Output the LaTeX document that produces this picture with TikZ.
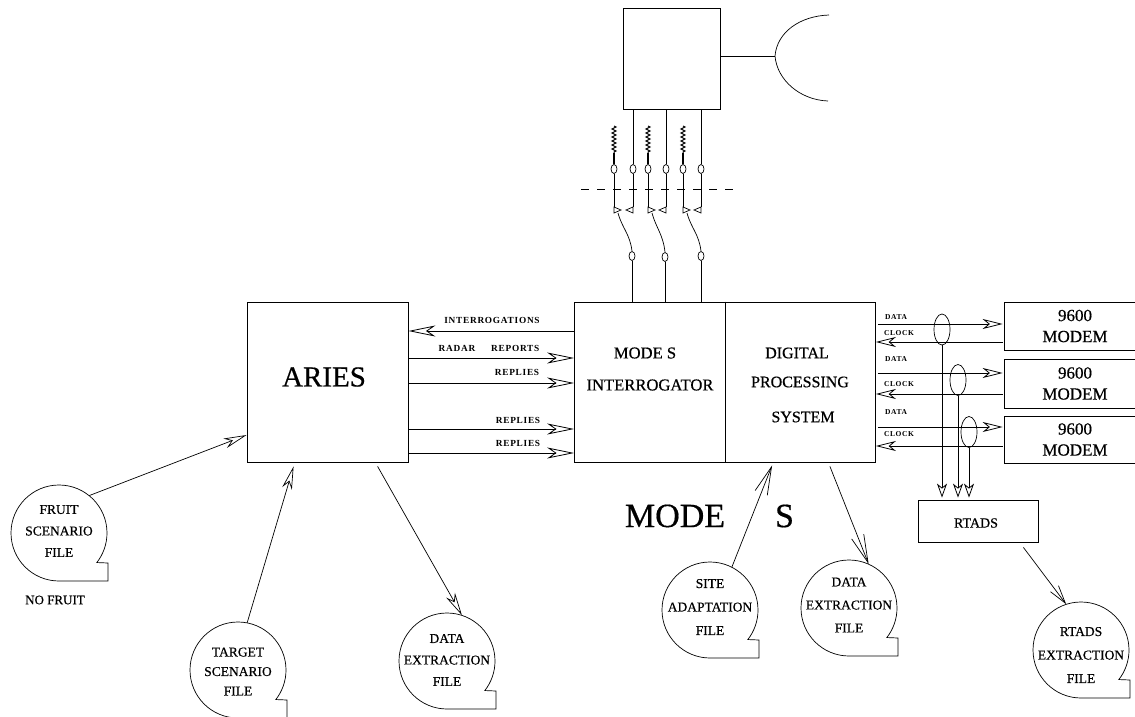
\documentclass[tikz,border=0pt]{standalone}
\usepackage{fontspec}
\setmainfont[FakeBold=0.5]{Liberation Serif}
\newfontfamily\tagfont[LetterSpace=8]{Liberation Serif}
\usetikzlibrary{arrows.meta,positioning,calc,shapes.geometric,decorations.pathmorphing}
\tikzset{
    blockbox/.style={draw, line width=0.8pt, inner sep=0pt, align=center},
    modembox/.style={blockbox, minimum width=142pt, font=\fontsize{17}{21}\selectfont},
    flowarrow/.style={line width=0.8pt, -{Stealth[open, length=27pt, width=11pt, inset=8pt]}},
    linkarrow/.style={line width=0.8pt, -{Stealth[open, length=20pt, width=10pt, inset=6pt]}},
    droparrow/.style={line width=0.8pt, -{Stealth[open, length=14pt, width=10pt, inset=4pt]}},
    filearrow/.style={line width=0.7pt, -{Stealth[open, length=23pt, width=10pt, inset=7pt]}},
    barbarrow/.style={line width=0.7pt, -{Straight Barb[length=28pt, width=13pt]}},
    shortbarb/.style={line width=0.7pt, -{Straight Barb[length=18pt, width=10pt]}},
    joint/.style={draw, ellipse, line width=0.7pt, minimum width=6pt, minimum height=9pt, inner sep=0pt},
    tap/.style={draw, ellipse, line width=0.7pt, minimum width=16pt, minimum height=31pt, inner sep=0pt},
    filecore/.style={circle, minimum size=96pt, inner sep=0pt},
    filetext/.style={inner sep=0pt, align=center, font=\fontsize{13.5}{#1}\selectfont},
    tag/.style={font=\tagfont\bfseries\fontsize{9.3}{10}\selectfont, inner sep=0pt},
    smalltag/.style={font=\tagfont\bfseries\fontsize{7.5}{8}\selectfont, inner sep=0pt},
}
\newcommand{\filebubble}[5]{%
    \node[filecore] (#1) at (#2) {};
    \node[filetext=#4] (#1text) at ($(#1.center)+(0,#3)$) {#5};
    \draw[line width=0.7pt] ($(#1.center)+(0,48)$) arc[start angle=90, end angle=398, radius=48]
        -- ($(#1.center)+(49,30)$) -- ($(#1.center)+(49,48)$) -- cycle;
}
\begin{document}
\begin{tikzpicture}[x=1pt, y=-1pt]
    \useasboundingbox (0,0) rectangle (1135,717);

    % blocks
    \node[blockbox, minimum width=161pt, minimum height=160pt] (aries) at (327.5,382) {};
    \node[font=\fontsize{29}{32}\selectfont, inner sep=0pt] (arieslabel) at (324,377) {ARIES};
    \node[blockbox, minimum width=301pt, minimum height=160pt] (modes) at (725,382) {};
    \draw[line width=0.8pt] (modes.north) -- (modes.south);
    \node[align=center, inner sep=0pt, font=\fontsize{16.6}{32}\selectfont] (interrogator) at (650,369) {MODE S\hspace*{10pt}\\INTERROGATOR};
    \node[align=center, inner sep=0pt, font=\fontsize{16}{30}\selectfont] (dps) at (800,385) {\hspace*{-6pt}DIGITAL\\[-1pt]PROCESSING\\[5pt]\hspace*{6pt}SYSTEM};
    \node[font=\fontsize{34}{38}\selectfont, inner sep=0pt] (title) at (709.5,516) {MODE\hspace*{50pt}S};

    \node[blockbox, minimum width=97pt, minimum height=101pt] (antenna) at (671.5,58.5) {};
    \node[modembox, minimum height=48pt] (modem1) at (1075,326) {\raisebox{-2.5pt}{9600}\\\raisebox{-2.5pt}{MODEM}};
    \node[modembox, minimum height=49pt] (modem2) at (1075,383.5) {9600\\MODEM};
    \node[modembox, minimum height=47pt] (modem3) at (1075,439.5) {9600\\MODEM};
    \node[blockbox, minimum width=120pt, minimum height=42pt] (rtads) at (978,521) {};
    \node[inner sep=0pt, font=\fontsize{14}{14}\selectfont] (rtadslabel) at (976,523) {RTADS};

    % antenna
    \coordinate (dish) at (775,56);
    \draw[line width=0.7pt] (antenna.east |- dish) -- (dish);
    \draw[line width=0.7pt] (829,15) .. controls (800,16) and (777,32) .. (dish) .. controls (777,80) and (800,100) .. (828,101);

    % feed lines
    \foreach \name/\x/\xin/\ylow in {a/614/632/256, b/648/665/257, c/683/701/256} {
        \node[joint] (tx\name) at (\x,169) {};
        \draw[line width=1pt, decorate, decoration={zigzag, amplitude=2pt, segment length=4pt}] (\x,126) -- (\x,153);
        \draw[line width=1.2pt] (\x,153) -- (tx\name.north);
        \coordinate (txdown\name) at (\x,207);
        \draw[line width=0.7pt] (tx\name.south) -- (txdown\name);
        \draw[line width=0.7pt] (txdown\name) -- ++(7,3) -- ++(-7,3) -- cycle;
        \node[joint] (low\name) at (\xin,\ylow) {};
        \draw[line width=0.7pt] (\x+4,213) .. controls (\x+8,228) and (\xin-2,234) .. (low\name.north);
        \draw[line width=0.7pt] (low\name.south) -- (low\name.south |- modes.north);
    }
    \foreach \name/\x in {a/633, b/666, c/701} {
        \node[joint] (rx\name) at (\x,169) {};
        \draw[line width=0.7pt] (\x,109) -- (rx\name.north);
        \coordinate (rxdown\name) at (\x,207);
        \draw[line width=0.7pt] (rx\name.south) -- (rxdown\name);
        \draw[line width=0.7pt] (rxdown\name) -- ++(-7,3) -- ++(7,3) -- cycle;
    }
    \coordinate (cutl) at (581,189);
    \coordinate (cutr) at (733,189);
    \draw[line width=0.7pt, dash pattern=on 8pt off 8pt] (cutl) -- (cutr);

    % aries <-> mode s
    \draw[flowarrow] (modes.west |- 0,331) -- (aries.east |- 0,331);
    \foreach \y in {358,383,429,453}
        \draw[flowarrow] (aries.east |- 0,\y) -- (modes.west |- 0,\y);
    \node[tag] (lblint) at (492,320) {INTERROGATIONS};
    \node[tag] (lblradar) at (489,348) {RADAR\hspace*{16pt}REPORTS};
    \node[tag] (lblrep1) at (517,372) {REPLIES};
    \node[tag] (lblrep2) at (518,420) {REPLIES};
    \node[tag] (lblrep3) at (518,443) {REPLIES};

    % modems
    \foreach \n/\ydata/\yclock in {1/324/342, 2/373/394, 3/427/446} {
        \draw[linkarrow] ($(modes.east |- 0,\ydata)+(2,0)$) -- ($(modem\n.west |- 0,\ydata)+(-1,0)$);
        \draw[linkarrow] ($(modem\n.west |- 0,\yclock)+(-1,0)$) -- (modes.east |- 0,\yclock);
    }
    \node[smalltag] at (896,317) (lbld1) {DATA};
    \node[smalltag] at (899,333) (lblc1) {CLOCK};
    \node[smalltag] at (896,359) (lbld2) {DATA};
    \node[smalltag] at (899,384) (lblc2) {CLOCK};
    \node[smalltag] at (896,412) (lbld3) {DATA};
    \node[smalltag] at (899,434) (lblc3) {CLOCK};

    % taps
    \node[tap] (tap1) at (942,329.5) {};
    \node[tap] (tap2) at (958,380) {};
    \node[tap] (tap3) at (969,432) {};
    \foreach \n in {1,2,3}
        \draw[droparrow] (tap\n.south) -- ($(tap\n.south |- rtads.north)+(0,-2)$);

    % files
    \filebubble{fruit}{59,533}{-2}{21.5}{FRUIT\\SCENARIO\\FILE}
    \filebubble{target}{238,670}{1.5}{19.5}{TARGET\\SCENARIO\\FILE}
    \filebubble{ariesdata}{447,661}{-1}{21.5}{DATA\\EXTRACTION\\FILE}
    \filebubble{site}{710,610}{-3}{23.5}{SITE\\ADAPTATION\\FILE}
    \filebubble{modesdata}{849,608}{-3}{23}{DATA\\EXTRACTION\\FILE}
    \filebubble{rtadsfile}{1081,650}{5}{23.5}{RTADS\\EXTRACTION\\FILE}
    \node[inner sep=0pt, font=\fontsize{13}{14}\selectfont] (nofruit) at (55,600) {NO FRUIT};

    \draw[filearrow] (fruit.51) -- (aries.west |- 0,435);
    \draw[filearrow] (target.79) -- ($(aries.south west)+(47,4)$);
    \draw[filearrow] ($(aries.south west)+(131,4)$) -- (ariesdata.72);
    \draw[barbarrow] (site.63) -- ($(modes.south west)+(198,3)$);
    \draw[barbarrow] ($(modes.south east)+(-46,4)$) -- (modesdata.66);
    \draw[shortbarb] ($(rtads.south east)+(-15,5)$) -- (rtadsfile.108);
\end{tikzpicture}
\end{document}
